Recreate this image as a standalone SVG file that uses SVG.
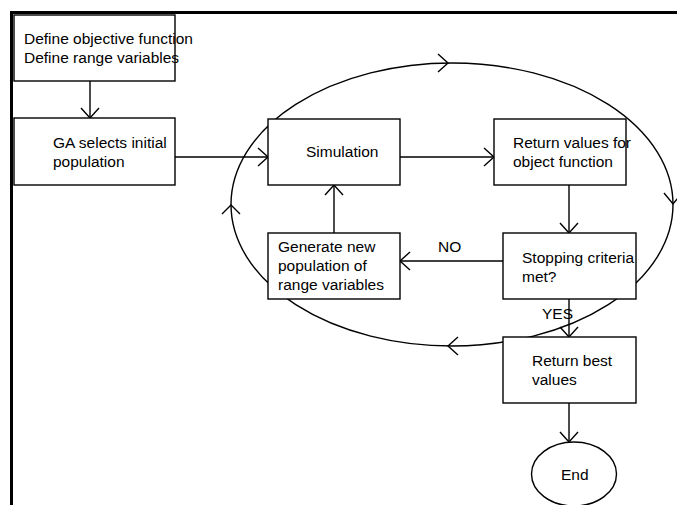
<svg xmlns="http://www.w3.org/2000/svg" width="677" height="505" viewBox="0 0 677 505">
<defs>
<style>
.box{fill:#fff;stroke:#000;stroke-width:1.4}
.t{font-family:"Liberation Sans",Arial,sans-serif;font-size:15.5px;fill:#000}
.c{fill:none;stroke:#000;stroke-width:1.4}
</style>
<marker id="ah" markerUnits="userSpaceOnUse" markerWidth="24" markerHeight="24" viewBox="-12 -12 24 24" refX="0" refY="0" orient="auto" overflow="visible">
<path d="M-10,-9 L0,0 L-10,9" fill="none" stroke="#000" stroke-width="1.4"/>
</marker>
</defs>
<rect width="677" height="505" fill="#fff"/>
<g id="frame">
<line x1="11.5" y1="12.5" x2="677" y2="12.5" stroke="#000" stroke-width="3"/>
<line x1="11.5" y1="11" x2="11.5" y2="505" stroke="#000" stroke-width="3"/>
</g>
<g id="loop">
<ellipse class="c" cx="452" cy="204.5" rx="221" ry="141.5"/>
<polyline class="c" points="438,54 448,63 438,72"/>
<polyline class="c" points="664,193 673,204 682,193"/>
<polyline class="c" points="458,337 448,346 458,355"/>
<polyline class="c" points="222,214 231,205 240,214"/>
</g>
<g id="connectors">
<line class="c" x1="90" y1="81" x2="90" y2="118" marker-end="url(#ah)"/>
<line class="c" x1="175" y1="157" x2="268" y2="157" marker-end="url(#ah)"/>
<line class="c" x1="400" y1="157" x2="494" y2="157" marker-end="url(#ah)"/>
<line class="c" x1="569" y1="185" x2="569" y2="233" marker-end="url(#ah)"/>
<line class="c" x1="503" y1="261" x2="400" y2="261" marker-end="url(#ah)"/>
<line class="c" x1="334" y1="233" x2="334" y2="185" marker-end="url(#ah)"/>
<line class="c" x1="569" y1="299" x2="569" y2="337" marker-end="url(#ah)"/>
<line class="c" x1="569" y1="403" x2="569" y2="442" marker-end="url(#ah)"/>
<text class="t" x="438" y="252">NO</text>
<text class="t" x="542" y="319">YES</text>
</g>
<g id="define">
<rect class="box" x="14" y="15" width="161" height="66"/>
<text class="t" x="24" y="44">Define objective function</text>
<text class="t" x="24" y="63">Define range variables</text>
</g>
<g id="ga">
<rect class="box" x="14" y="118" width="161" height="67"/>
<text class="t" x="53" y="148">GA selects initial</text>
<text class="t" x="53" y="167">population</text>
</g>
<g id="simulation">
<rect class="box" x="268" y="119" width="132" height="66"/>
<text class="t" x="306" y="157">Simulation</text>
</g>
<g id="returnvalues">
<rect class="box" x="494" y="119" width="132" height="66"/>
<text class="t" x="513" y="148">Return values for</text>
<text class="t" x="513" y="167">object function</text>
</g>
<g id="generate">
<rect class="box" x="268" y="233" width="132" height="66"/>
<text class="t" x="278" y="252">Generate new</text>
<text class="t" x="278" y="271">population of</text>
<text class="t" x="278" y="290">range variables</text>
</g>
<g id="stopping">
<rect class="box" x="503" y="233" width="133" height="66"/>
<text class="t" x="522" y="263">Stopping criteria</text>
<text class="t" x="522" y="282">met?</text>
</g>
<g id="returnbest">
<rect class="box" x="503" y="337" width="133" height="66"/>
<text class="t" x="532" y="366">Return best</text>
<text class="t" x="532" y="385">values</text>
</g>
<g id="end">
<ellipse class="box" cx="574" cy="474" rx="42.5" ry="32"/>
<text class="t" x="561" y="480">End</text>
</g>
</svg>
